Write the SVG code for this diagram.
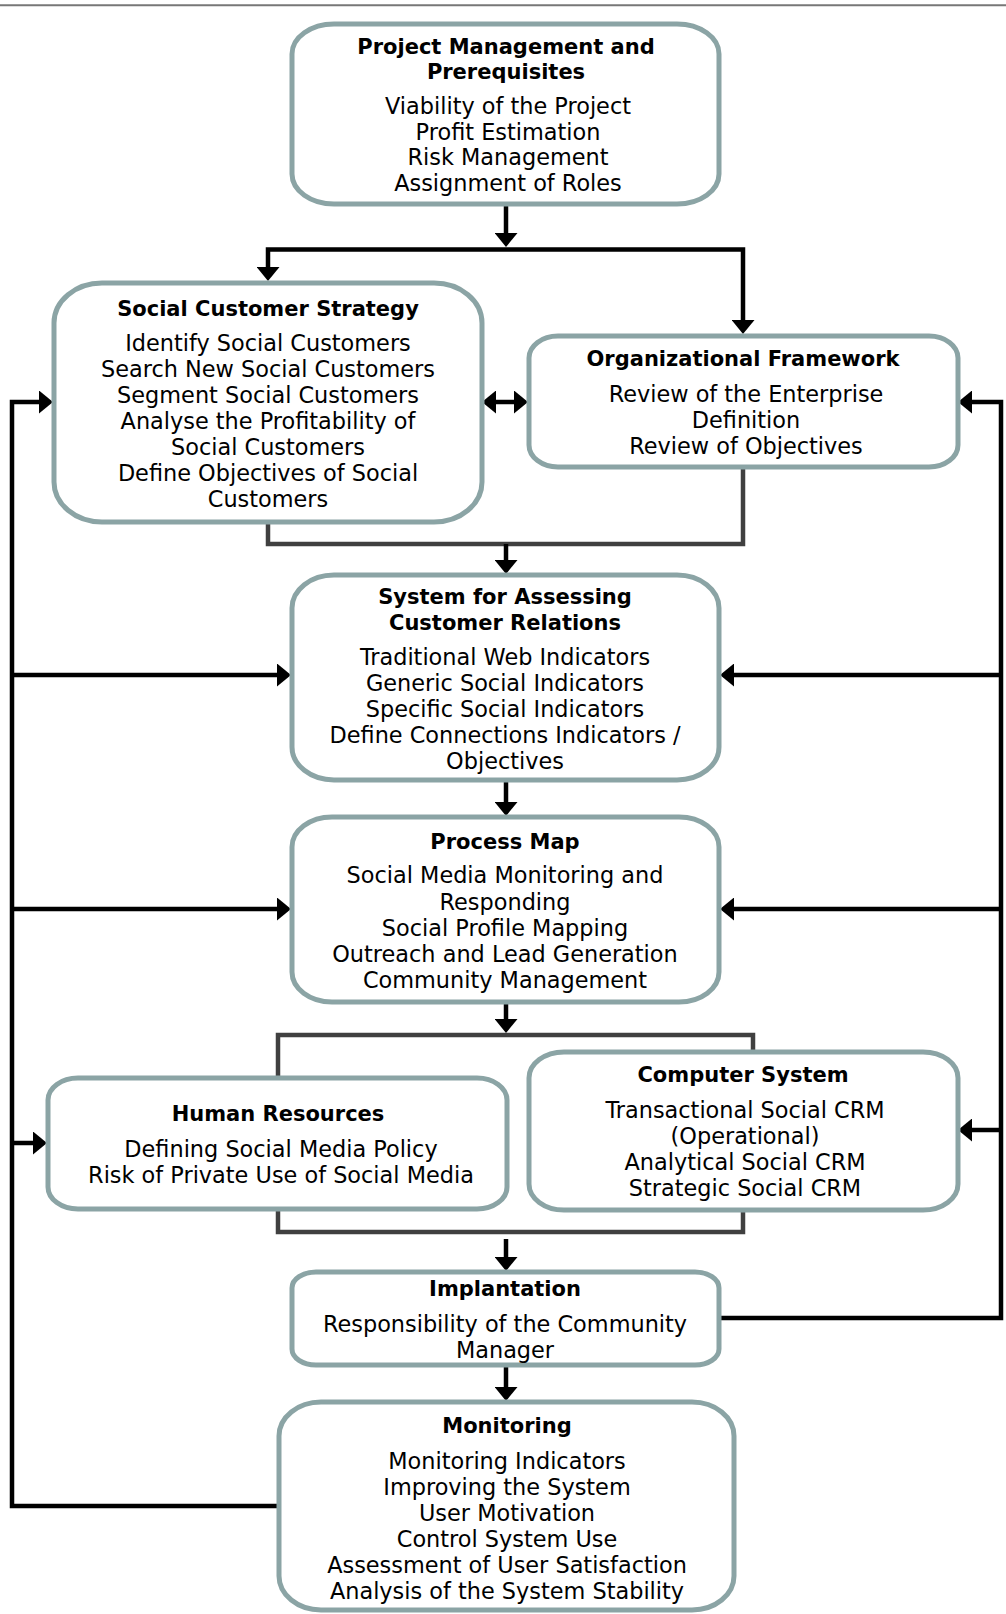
<svg xmlns="http://www.w3.org/2000/svg" width="1006" height="1614" viewBox="0 0 1006 1614">
<style>
.box{fill:#ffffff;stroke:#8BA4A5;stroke-width:5}
.t{font-family:"DejaVu Sans",Verdana,sans-serif;font-weight:bold;font-size:21px;text-anchor:middle;fill:#000}
.i{font-family:"DejaVu Sans",Verdana,sans-serif;font-size:22.4px;text-anchor:middle;fill:#000}
.c{fill:none;stroke:#000;stroke-width:4.5;stroke-linejoin:miter}
.g{fill:none;stroke:#404040;stroke-width:4.5;stroke-linejoin:miter}
</style>
<defs>
<marker id="ah" markerUnits="userSpaceOnUse" markerWidth="15" markerHeight="23" refX="3" refY="11.5" orient="auto-start-reverse" viewBox="0 0 15 23">
<path d="M0,0 L14,11.5 L0,23 z" fill="#000"/>
</marker>
</defs>
<rect width="1006" height="1614" fill="#fff"/>
<line x1="0" y1="5.3" x2="1006" y2="5.3" stroke="#777" stroke-width="2"/>

<g id="connectors">
<path class="c" d="M506,206 L506,236" marker-end="url(#ah)"/>
<path class="c" d="M506,249.5 L268,249.5 L268,270" marker-end="url(#ah)"/>
<path class="c" d="M506,249.5 L743,249.5 L743,323" marker-end="url(#ah)"/>
<path class="c" d="M493,402 L517,402" marker-start="url(#ah)" marker-end="url(#ah)"/>
<path class="g" d="M268,522 L268,544 L743,544 L743,467"/>
<path class="c" d="M506,544 L506,563" marker-end="url(#ah)"/>
<path class="c" d="M506,782 L506,805" marker-end="url(#ah)"/>
<path class="c" d="M506,1004 L506,1022" marker-end="url(#ah)"/>
<path class="g" d="M278,1078 L278,1035 L753,1035 L753,1052"/>
<path class="g" d="M278,1209 L278,1232 L743,1232 L743,1210"/>
<path class="c" d="M506,1239 L506,1260" marker-end="url(#ah)"/>
<path class="c" d="M506,1367 L506,1390" marker-end="url(#ah)"/>
<path class="c" d="M279,1506 L12,1506 L12,402 L42,402" marker-end="url(#ah)"/>
<path class="c" d="M12,675 L280,675" marker-end="url(#ah)"/>
<path class="c" d="M12,909 L280,909" marker-end="url(#ah)"/>
<path class="c" d="M12,1143 L36,1143" marker-end="url(#ah)"/>
<path class="c" d="M719,1318 L1001,1318 L1001,402 L969,402" marker-end="url(#ah)"/>
<path class="c" d="M1001,675 L731,675" marker-end="url(#ah)"/>
<path class="c" d="M1001,909 L731,909" marker-end="url(#ah)"/>
<path class="c" d="M1001,1130 L969,1130" marker-end="url(#ah)"/>
</g>

<g id="project-management">
<rect class="box" x="292" y="24" width="427" height="180" rx="42" ry="30"/>
<text class="t" x="506" y="54">Project Management and</text>
<text class="t" x="506" y="79">Prerequisites</text>
<text class="i" x="508" y="114">Viability of the Project</text>
<text class="i" x="508" y="140">Profit Estimation</text>
<text class="i" x="508" y="165">Risk Management</text>
<text class="i" x="508" y="191">Assignment of Roles</text>
</g>

<g id="social-customer-strategy">
<rect class="box" x="54" y="283" width="428" height="239" rx="48" ry="40"/>
<text class="t" x="268" y="316">Social Customer Strategy</text>
<text class="i" x="268" y="351">Identify Social Customers</text>
<text class="i" x="268" y="377">Search New Social Customers</text>
<text class="i" x="268" y="403">Segment Social Customers</text>
<text class="i" x="268" y="429">Analyse the Profitability of</text>
<text class="i" x="268" y="455">Social Customers</text>
<text class="i" x="268" y="481">Define Objectives of Social</text>
<text class="i" x="268" y="507">Customers</text>
</g>

<g id="organizational-framework">
<rect class="box" x="529" y="336" width="429" height="131" rx="29" ry="22"/>
<text class="t" x="743" y="366">Organizational Framework</text>
<text class="i" x="746" y="402">Review of the Enterprise</text>
<text class="i" x="746" y="428">Definition</text>
<text class="i" x="746" y="454">Review of Objectives</text>
</g>

<g id="assessing-system">
<rect class="box" x="292" y="575" width="427" height="205" rx="42" ry="33"/>
<text class="t" x="505" y="604">System for Assessing</text>
<text class="t" x="505" y="630">Customer Relations</text>
<text class="i" x="505" y="665">Traditional Web Indicators</text>
<text class="i" x="505" y="691">Generic Social Indicators</text>
<text class="i" x="505" y="717">Specific Social Indicators</text>
<text class="i" x="505" y="743">Define Connections Indicators /</text>
<text class="i" x="505" y="769">Objectives</text>
</g>

<g id="process-map">
<rect class="box" x="292" y="817" width="427" height="185" rx="40" ry="30"/>
<text class="t" x="505" y="849">Process Map</text>
<text class="i" x="505" y="883">Social Media Monitoring and</text>
<text class="i" x="505" y="910">Responding</text>
<text class="i" x="505" y="936">Social Profile Mapping</text>
<text class="i" x="505" y="962">Outreach and Lead Generation</text>
<text class="i" x="505" y="988">Community Management</text>
</g>

<g id="human-resources">
<rect class="box" x="48" y="1078" width="459" height="131" rx="30" ry="22"/>
<text class="t" x="278" y="1121">Human Resources</text>
<text class="i" x="281" y="1157">Defining Social Media Policy</text>
<text class="i" x="281" y="1183">Risk of Private Use of Social Media</text>
</g>

<g id="computer-system">
<rect class="box" x="529" y="1052" width="429" height="158" rx="35" ry="26"/>
<text class="t" x="743" y="1082">Computer System</text>
<text class="i" x="745" y="1118">Transactional Social CRM</text>
<text class="i" x="745" y="1144">(Operational)</text>
<text class="i" x="745" y="1170">Analytical Social CRM</text>
<text class="i" x="745" y="1196">Strategic Social CRM</text>
</g>

<g id="implantation">
<rect class="box" x="292" y="1272" width="427" height="93" rx="24" ry="16"/>
<text class="t" x="505" y="1296">Implantation</text>
<text class="i" x="505" y="1332">Responsibility of the Community</text>
<text class="i" x="505" y="1358">Manager</text>
</g>

<g id="monitoring">
<rect class="box" x="279" y="1402" width="455" height="208" rx="42" ry="34"/>
<text class="t" x="507" y="1433">Monitoring</text>
<text class="i" x="507" y="1469">Monitoring Indicators</text>
<text class="i" x="507" y="1495">Improving the System</text>
<text class="i" x="507" y="1521">User Motivation</text>
<text class="i" x="507" y="1547">Control System Use</text>
<text class="i" x="507" y="1573">Assessment of User Satisfaction</text>
<text class="i" x="507" y="1599">Analysis of the System Stability</text>
</g>
</svg>
